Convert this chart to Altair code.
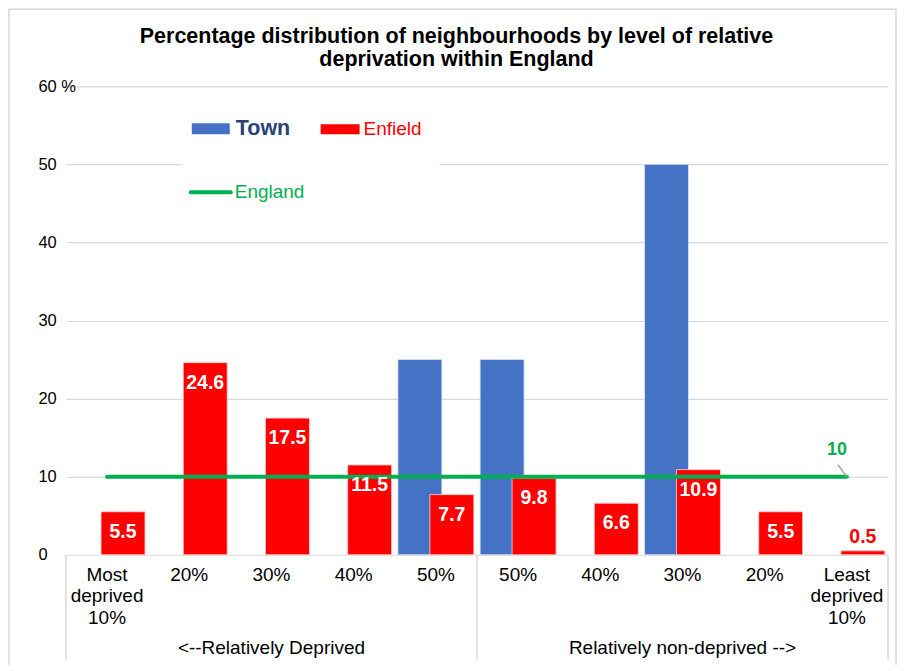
import altair as alt
import pandas as pd

categories = ["Most\ndeprived\n10%", "20%", "30%", "40%", "50%",
              "50%", "40%", "30%", "20%", "Least\ndeprived\n10%"]
town = [0, 0, 0, 0, 25, 25, 0, 50, 0, 0]
enfield = [5.5, 24.6, 17.5, 11.5, 7.7, 9.8, 6.6, 10.9, 5.5, 0.5]
england = [10, 10, 10, 10, 10, 10, 10, 10, 10, 10]
group_labels = ["<--Relatively Deprived", "Relatively non-deprived -->"]
group_centre_idx = [2, 7]
y_ticks = [0, 10, 20, 30, 40, 50, 60]

W, H = 823, 469
FONT = "Liberation Sans"
BLUE, RED, GREEN = "#4472c4", "#ff0000", "#00b050"
GRID = "#d9d9d9"

df = pd.DataFrame({"idx": list(range(10)), "cat": categories,
                   "town": town, "enfield": enfield, "england": england})
gdf = pd.DataFrame({"idx": group_centre_idx, "label": group_labels})
one = pd.DataFrame({"a": [0]})

xs = alt.Scale(domain=list(range(10)), paddingInner=0, paddingOuter=0)
ys = alt.Scale(domain=[0, 60], nice=False)
X = alt.X("idx:O", scale=xs, axis=None)

base = alt.Chart(df)

yaxis = alt.Axis(values=y_ticks, labelExpr="datum.value == 60 ? '60 %' : datum.label",
                 labelAlign="left", labelPadding=28, ticks=False, domain=False,
                 gridColor=GRID, gridWidth=1.2, labelFontSize=16.5, labelColor="#000",
                 labelFont=FONT, title=None)

border = alt.Chart(one).mark_rect(fill="white", fillOpacity=0, stroke=GRID, strokeWidth=1.5).encode(
    x=alt.value(-57), x2=alt.value(831), y=alt.value(-77), y2=alt.value(700))

town_bars = base.transform_filter("datum.town > 0").mark_bar(
    width=44, xOffset=-16, color=BLUE, stroke="#dbe3f3", strokeWidth=0.8).encode(
    x=X, y=alt.Y("town:Q", scale=ys, axis=yaxis))

enf_bars = base.mark_bar(width=44, xOffset=16, color=RED, stroke="#ffd0d0", strokeWidth=0.8).encode(
    x=X, y=alt.Y("enfield:Q", scale=ys))

eng_line = base.mark_line(color=GREEN, strokeWidth=4, strokeCap="round").encode(
    x=X, y=alt.Y("england:Q", scale=ys))

lab_in = base.transform_filter("datum.enfield >= 2").mark_text(
    xOffset=16, dy=20, baseline="middle", align="center", fontSize=19.5,
    fontWeight="bold", color="white").encode(
    x=X, y=alt.Y("enfield:Q", scale=ys), text=alt.Text("enfield:Q", format=".1f"))

lab_out = base.transform_filter("datum.enfield < 2").mark_text(
    xOffset=16, dy=-14, baseline="middle", align="center", fontSize=19.5,
    fontWeight="bold", color=RED).encode(
    x=X, y=alt.Y("enfield:Q", scale=ys), text=alt.Text("enfield:Q", format=".1f"))

last = base.transform_filter("datum.idx == 9")
eng_leader = last.mark_rule(color="#a6a6a6", strokeWidth=1.5, xOffset=-9, yOffset=-12).encode(
    x=X, y=alt.Y("england:Q", scale=ys), x2="idx:O", y2="england:Q")
eng_lab = last.mark_text(dx=-10, dy=-27, baseline="middle", align="center", fontSize=18,
                         fontWeight="bold", color=GREEN).encode(
    x=X, y=alt.Y("england:Q", scale=ys), text=alt.Text("england:Q"))

sep_left = base.transform_filter("datum.idx == 0 || datum.idx == 5").mark_rule(
    color=GRID, strokeWidth=1.5).encode(
    x=alt.X("idx:O", scale=xs, axis=None, bandPosition=0),
    y=alt.value(H), y2=alt.value(H + 105))
sep_right = base.transform_filter("datum.idx == 9").mark_rule(
    color=GRID, strokeWidth=1.5).encode(
    x=alt.X("idx:O", scale=xs, axis=None, bandPosition=1),
    y=alt.value(H), y2=alt.value(H + 105))

cat_text = base.mark_text(baseline="top", align="center", fontSize=19, lineHeight=21.5,
                          lineBreak="\n", color="#000").encode(
    x=X, y=alt.value(H + 11), text="cat:N")

grp_text = alt.Chart(gdf).mark_text(baseline="middle", align="center", fontSize=19,
                                    color="#000").encode(
    x=alt.X("idx:O", scale=xs, axis=None), y=alt.value(H + 93), text="label:N")

# legend (drawn inside the plot, top-left)
leg_bg = alt.Chart(one).mark_rect(fill="white").encode(
    x=alt.value(116), x2=alt.value(374), y=alt.value(22), y2=alt.value(126))
leg_town_sw = alt.Chart(one).mark_rect(fill=BLUE).encode(
    x=alt.value(126), x2=alt.value(164), y=alt.value(37), y2=alt.value(48))
leg_town_tx = alt.Chart(one).mark_text(text="Town", align="left", baseline="middle",
                                       fontSize=21.5, fontWeight="bold", color="#264478").encode(
    x=alt.value(170), y=alt.value(43))
leg_enf_sw = alt.Chart(one).mark_rect(fill=RED).encode(
    x=alt.value(255), x2=alt.value(294), y=alt.value(38), y2=alt.value(48))
leg_enf_tx = alt.Chart(one).mark_text(text="Enfield", align="left", baseline="middle",
                                      fontSize=19, color=RED).encode(
    x=alt.value(298), y=alt.value(43))
leg_eng_sw = alt.Chart(one).mark_rule(color=GREEN, strokeWidth=4, strokeCap="round").encode(
    x=alt.value(125), x2=alt.value(165), y=alt.value(106))
leg_eng_tx = alt.Chart(one).mark_text(text="England", align="left", baseline="middle",
                                      fontSize=19, color=GREEN).encode(
    x=alt.value(169), y=alt.value(106))

chart = alt.layer(
    border, town_bars, enf_bars, eng_line, lab_in, lab_out, eng_leader, eng_lab,
    sep_left, sep_right, cat_text, grp_text,
    leg_bg, leg_town_sw, leg_town_tx, leg_enf_sw, leg_enf_tx, leg_eng_sw, leg_eng_tx
).properties(
    width=W, height=H,
    title=alt.Title(["Percentage distribution of neighbourhoods by  level of relative",
                     "deprivation within England"],
                    fontSize=21.5, fontWeight="bold", font=FONT, color="#000",
                    anchor="middle", frame="bounds", dx=4, lineHeight=23, offset=-62),
    autosize=alt.AutoSizeParams(type="none"),
    padding={"left": 58, "top": 78, "right": 10, "bottom": 110},
).configure(font=FONT).configure_view(stroke=None)

chart.save("out.html", embed_options={"renderer": "svg", "actions": False})
